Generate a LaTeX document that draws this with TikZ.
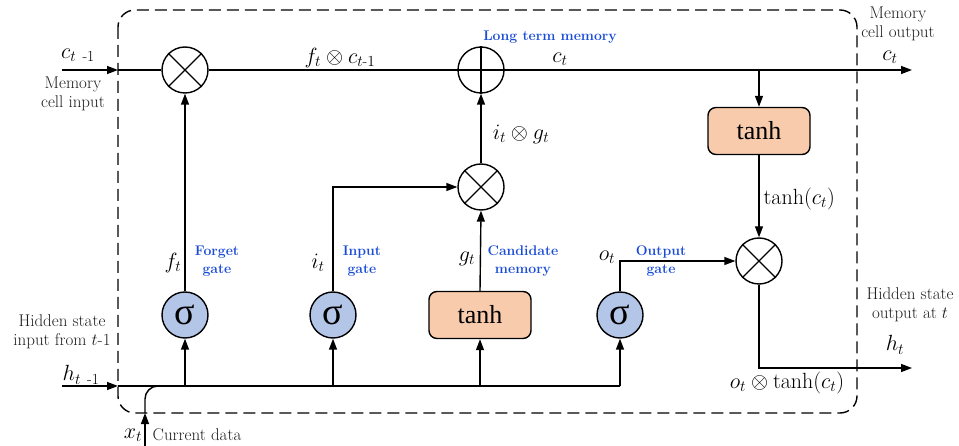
\RequirePackage{fix-cm}
\documentclass[tikz,border=0pt]{standalone}
\usepackage{amsmath}
\usepackage{fontspec}
\newfontfamily\timesf{Liberation Serif}
\usetikzlibrary{arrows.meta}
\definecolor{sigfill}{RGB}{180,198,231}
\definecolor{tanhfill}{RGB}{248,203,173}
\definecolor{lblblue}{RGB}{25,75,215}
\definecolor{graytxt}{RGB}{30,30,30}
\begin{document}
\begin{tikzpicture}[x=1pt,y=-1pt,
 line width=1.4pt,
 arr/.style={-{Triangle[length=11pt,width=8pt]}},
 mult/.style={circle,draw,fill=white,minimum size=46pt,inner sep=0pt},
 sig/.style={circle,draw,fill=sigfill,minimum size=46pt,inner sep=0pt,font=\timesf\fontsize{38}{38}\selectfont},
 tbox/.style={draw,rounded corners=8pt,fill=tanhfill,minimum width=102pt,minimum height=47pt,inner sep=0pt,font=\timesf\fontsize{26}{26}\selectfont},
 mlab/.style={font=\fontsize{22}{26}\selectfont,inner sep=0pt},
 glab/.style={font=\fontsize{17}{18.5}\selectfont,align=center,text=graytxt,inner sep=0pt},
 blab/.style={font=\bfseries\fontsize{14}{18}\selectfont,align=center,text=lblblue,inner sep=0pt}]
\useasboundingbox (0,0) rectangle (959,446);
\draw[dash pattern=on 12pt off 6pt, rounded corners=17pt] (118,10) rectangle (857,413);

\node[mult] (m1) at (185,70) {};
\node[mult] (pl) at (481,70) {};
\node[mult] (m2) at (481,187) {};
\node[mult] (m3) at (759,261) {};
\node[tbox] (t2) at (759,131) {tanh};
\node[tbox] (t1) at (480,315) {tanh};
\node[sig] (sf) at (185,315) {σ};
\node[sig] (si) at (333,315) {σ};
\node[sig] (so) at (620,315) {σ};
\foreach \n in {m1,m2,m3} \draw (\n.45) -- (\n.225) (\n.135) -- (\n.315);
\draw (pl.north) -- (pl.south) (pl.west) -- (pl.east);

\coordinate (cin) at (62,70);
\coordinate (cinb) at (118,70);
\coordinate (cout) at (912,70);
\coordinate (br) at (759,70);
\coordinate (hin) at (62,386);
\coordinate (hinb) at (118,386);
\coordinate (hend) at (620,386);
\coordinate (xin) at (145,446);
\coordinate (xinb) at (145,413);
\coordinate (hout) at (912,368);

\draw[arr] (cin) -- (cinb);
\draw (cinb) -- (m1.west);
\draw (m1.east) -- (pl.west);
\draw[arr] (pl.east) -- (cout);
\draw[arr] (br) -- (t2.north);
\draw[arr] (t2.south) -- (m3.north);
\draw[arr] (m3.south) |- (hout);
\draw[arr] (m2.north) -- (pl.south);
\draw[arr] (si.north) |- (m2.west);
\draw[arr] (t1.north) -- (m2.south);
\draw[arr] (sf.north) -- (m1.south);
\draw[arr] (so.north) |- (m3.west);
\draw[arr] (hin) -- (hinb);
\draw (hinb) -- (hend);
\draw[arr] (sf.south |- hinb) -- (sf.south);
\draw[arr] (si.south |- hinb) -- (si.south);
\draw[arr] (t1.south |- hinb) -- (t1.south);
\draw[arr] (hend) -- (so.south);
\draw[arr] (xin) -- (xinb);
\draw[rounded corners=13pt] (xinb) |- (sf.south |- hinb);

\node[mlab] (lc1) at (78,55) {$c_{t\ \text{-1}}$};
\node[glab] (lmi) at (73,94) {Memory\\cell input};
\node[mlab] (lfc) at (340,58) {$f_t\otimes c_{t\text{-}1}$};
\node[blab] (llt) at (550,37) {Long term memory};
\node[mlab] (lct) at (560,59) {$c_t$};
\node[glab] (lmo) at (898,24) {Memory\\cell output};
\node[mlab] (lct2) at (890,57) {$c_t$};
\node[mlab, anchor=west] (ltc) at (763,199) {$\tanh(c_t)$};
\node[mlab] (lig) at (521,134) {$i_t\otimes g_t$};
\node[mlab] (lf) at (173,263) {$f_t$};
\node[blab] (lfg) at (217,261) {Forget\\gate};
\node[mlab] (li) at (318,263) {$i_t$};
\node[blab] (lig2) at (362,261) {Input\\gate};
\node[mlab] (lg) at (467,259) {$g_t$};
\node[blab] (lcm) at (523,261) {Candidate\\memory};
\node[mlab] (lo) at (607,257) {$o_t$};
\node[blab] (log) at (661,261) {Output\\gate};
\node[glab] (lhs) at (62,332) {Hidden state\\input from $t$-1};
\node[mlab] (lh1) at (81,375) {$h_{t\ \text{-1}}$};
\node[mlab] (lx) at (133,435) {$x_t$};
\node[glab] (lcd) at (197,435) {Current data};
\node[glab] (lho) at (910,305) {Hidden state\\output at $t$};
\node[mlab] (lht) at (895,345) {$h_t$};
\node[mlab] (lot) at (787,383) {$o_t\otimes\tanh(c_t)$};
\end{tikzpicture}
\end{document}
